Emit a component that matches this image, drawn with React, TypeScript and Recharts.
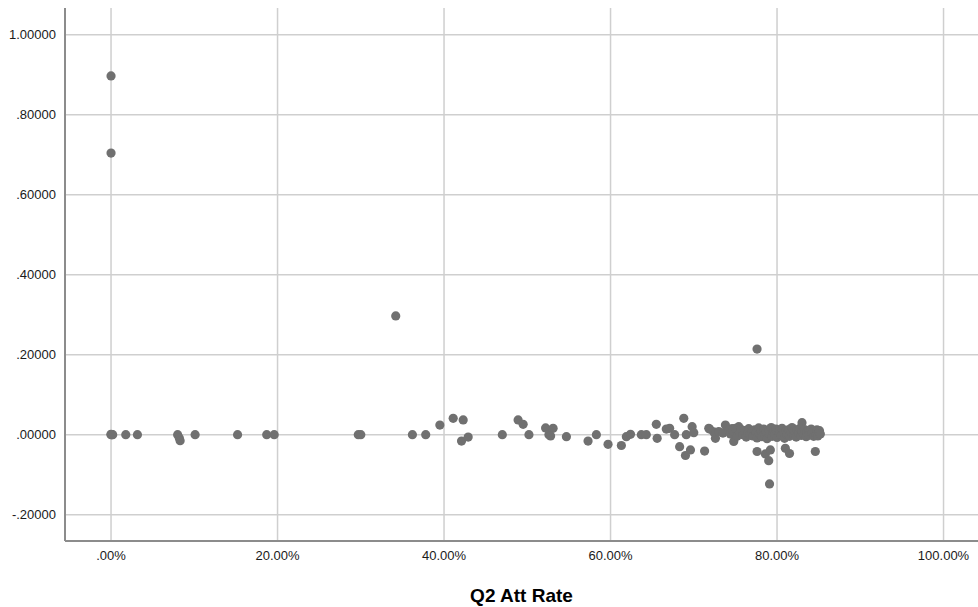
import { ScatterChart, Scatter, XAxis, YAxis, ReferenceLine } from "recharts";

// [Q2 Att Rate, value] pairs
const zeroGroup: [number, number][] = [
  [0, 0.897], [0, 0.704], [0, 0], [0.001, 0], [0, 0.001], [0.002, 0],
  [0.0177, 0], [0.0317, 0], [0.08, 0], [0.082, -0.008], [0.083, -0.015],
  [0.101, 0], [0.152, 0], [0.187, 0], [0.196, 0],
];

const midGroup: [number, number][] = [
  [0.297, 0], [0.3, 0], [0.342, 0.297], [0.362, 0], [0.378, 0],
  [0.395, 0.024], [0.411, 0.041], [0.423, 0.037], [0.421, -0.016],
  [0.429, -0.006], [0.47, 0], [0.489, 0.037], [0.495, 0.026], [0.502, 0],
  [0.522, 0.017], [0.531, 0.016], [0.526, 0], [0.528, -0.003], [0.547, -0.005],
  [0.573, -0.016], [0.583, 0], [0.597, -0.024], [0.613, -0.027], [0.619, -0.005],
  [0.624, 0.001], [0.637, 0], [0.643, 0], [0.655, 0.026], [0.656, -0.009],
  [0.667, 0.014], [0.671, 0.016], [0.677, 0], [0.688, 0.041], [0.683, -0.03],
  [0.69, -0.052], [0.696, -0.038], [0.698, 0.02], [0.691, 0], [0.7, 0.005],
];

const highGroup: [number, number][] = [
  [0.713, -0.041], [0.719, 0.014], [0.726, -0.009], [0.724, 0.007],
  [0.718, 0.016], [0.73, 0.008], [0.738, 0.024], [0.748, -0.017],
  [0.754, 0.02], [0.746, 0.015], [0.735, 0.004], [0.776, 0.214],
  [0.776, -0.042], [0.786, -0.048], [0.79, -0.065], [0.792, -0.038],
  [0.791, -0.123], [0.81, -0.034], [0.815, -0.047], [0.83, 0.03], [0.846, -0.042],
];

const cluster: [number, number][] = [
  [0.742, 0.012], [0.744, 0.002], [0.747, 0.008], [0.75, 0.016], [0.752, -0.004],
  [0.755, 0.006], [0.757, 0.013], [0.759, 0.0], [0.761, 0.01], [0.763, -0.006],
  [0.765, 0.004], [0.766, 0.015], [0.768, 0.001], [0.77, 0.008], [0.771, -0.003],
  [0.773, 0.012], [0.775, 0.005], [0.776, -0.008], [0.778, 0.017], [0.779, 0.002],
  [0.781, 0.009], [0.782, -0.005], [0.784, 0.014], [0.785, 0.0], [0.787, 0.007],
  [0.788, -0.01], [0.79, 0.012], [0.791, 0.003], [0.793, 0.018], [0.794, -0.004],
  [0.796, 0.009], [0.797, 0.001], [0.799, 0.014], [0.8, -0.007], [0.802, 0.006],
  [0.803, 0.011], [0.805, -0.002], [0.806, 0.016], [0.808, 0.004], [0.809, -0.009],
  [0.811, 0.01], [0.812, 0.001], [0.814, 0.013], [0.815, -0.004], [0.817, 0.007],
  [0.818, 0.018], [0.82, 0.0], [0.821, 0.009], [0.823, -0.006], [0.824, 0.012],
  [0.826, 0.003], [0.827, 0.015], [0.829, -0.002], [0.83, 0.008], [0.832, 0.001],
  [0.833, 0.013], [0.835, -0.005], [0.836, 0.006], [0.838, 0.01], [0.839, -0.001],
  [0.841, 0.014], [0.842, 0.004], [0.844, -0.004], [0.845, 0.009], [0.847, 0.001],
  [0.848, 0.012], [0.849, -0.003], [0.85, 0.006], [0.851, 0.01], [0.852, 0.002],
];

const xTicks = [0, 0.2, 0.4, 0.6, 0.8, 1.0];
const yTicks = [-0.2, 0, 0.2, 0.4, 0.6, 0.8, 1.0];

const points = [...zeroGroup, ...midGroup, ...highGroup, ...cluster].map(([x, y]) => ({ x, y }));

const fmtPct = (v: number) => (v * 100).toFixed(2).replace(/^0\./, ".") + "%";
const fmtVal = (v: number) => v.toFixed(5).replace(/^(-?)0\./, "$1.");

const font = "'Liberation Sans', Arial, sans-serif";
const tickStyle = { fontSize: 13, fill: "#1a1a1a", fontFamily: font };
const gridColor = "#cfcfcf";

const Dot = (props: any) => <circle cx={props.cx} cy={props.cy} r={4.6} fill="#707070" />;

export default function App() {
  return (
    <div style={{ position: "absolute", left: 0, top: 0, background: "#fff" }}>
      <ScatterChart width={978} height={607} margin={{ top: 8, right: 0, bottom: 0, left: 0 }}>
        <XAxis
          type="number"
          dataKey="x"
          domain={[-0.0553, 1.0414]}
          ticks={xTicks}
          allowDataOverflow
          tickFormatter={fmtPct}
          tick={tickStyle}
          tickLine={false}
          tickSize={8}
          axisLine={{ stroke: "#8c8c8c", strokeWidth: 2 }}
          height={66}
          label={{
            value: "Q2 Att Rate",
            position: "insideBottom",
            offset: 5,
            style: { fontSize: 19, fontWeight: "bold", fill: "#000", fontFamily: font },
          }}
        />
        <YAxis
          type="number"
          dataKey="y"
          domain={[-0.2658, 1.0668]}
          ticks={yTicks}
          allowDataOverflow
          tickFormatter={fmtVal}
          tick={tickStyle}
          tickLine={false}
          tickSize={7}
          axisLine={{ stroke: "#8c8c8c", strokeWidth: 2 }}
          width={65}
        />
        {/* grid lines only at the tick values */}
        {yTicks.map((t) => (
          <ReferenceLine key={`h${t}`} y={t} stroke={gridColor} strokeWidth={1.5} />
        ))}
        {xTicks.map((t) => (
          <ReferenceLine key={`v${t}`} x={t} stroke={gridColor} strokeWidth={1.5} />
        ))}
        <Scatter data={points} fill="#707070" shape={Dot} isAnimationActive={false} />
      </ScatterChart>
    </div>
  );
}
